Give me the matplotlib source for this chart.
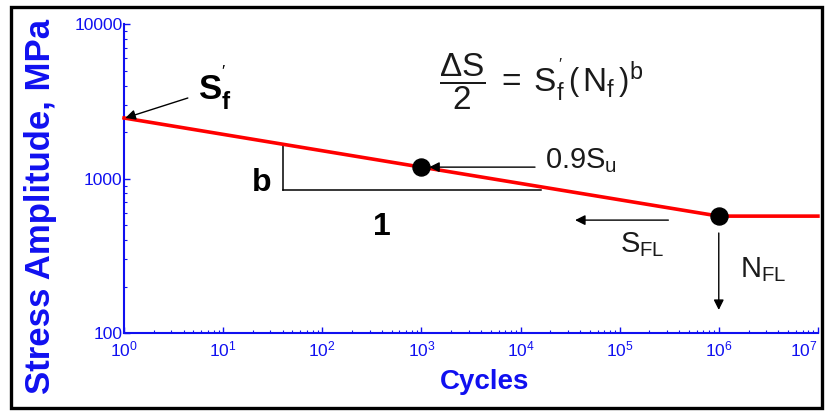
"""S-N curve sketch: Basquin line with fatigue limit."""
import matplotlib

matplotlib.use("Agg")
import matplotlib.pyplot as plt
from matplotlib.patches import Rectangle

OUT = "out.png"
BLUE = "#1010F0"
INK = "#1a1a1a"

# curve: Basquin segment up to the fatigue limit, then flat
cycles = [1.0, 1e3, 1e6, 1e7]
stress = [2465.0, 1185.0, 571.0, 571.0]

# marked points (0.9 Su at 10^3, fatigue limit at 10^6)
mark_cycles = [1e3, 1e6]
mark_stress = [1185.0, 571.0]

x_ticks = [1, 10, 100, 1e3, 1e4, 1e5, 1e6, 1e7]
x_tick_labels = [r"$10^{%d}$" % k for k in range(8)]
y_ticks = [100, 1000, 10000]
y_tick_labels = ["100", "1000", "10000"]


def main():
    plt.rcParams["font.family"] = ["Liberation Sans", "DejaVu Sans"]
    plt.rcParams["mathtext.fontset"] = "custom"
    plt.rcParams["mathtext.rm"] = "Liberation Sans"
    plt.rcParams["mathtext.it"] = "Liberation Sans"
    plt.rcParams["mathtext.bf"] = "Liberation Sans:bold"

    fig = plt.figure(figsize=(8.28, 4.12), dpi=100)
    ax = fig.add_axes([0.1498, 0.1917, 0.838, 0.750])

    ax.plot(cycles, stress, color="red", linewidth=2.6, zorder=3, clip_on=False)
    ax.scatter(mark_cycles, mark_stress, s=150, color="black", zorder=4)

    ax.set_xscale("log")
    ax.set_yscale("log")
    ax.set_xlim(1, 1e7)
    ax.set_ylim(100, 10000)
    ax.set_xticks(x_ticks)
    ax.set_xticklabels(x_tick_labels)
    ax.set_yticks(y_ticks)
    ax.set_yticklabels(y_tick_labels)
    # keep the last decade label inside the border
    ax.get_xticklabels()[-1].set_horizontalalignment("right")

    for side in ("top", "right"):
        ax.spines[side].set_visible(False)
    for side in ("left", "bottom"):
        ax.spines[side].set_color(BLUE)
        ax.spines[side].set_linewidth(1.5)
    ax.tick_params(which="both", direction="in", colors=BLUE, labelcolor=BLUE,
                   labelsize=12.5)
    ax.tick_params(which="major", length=4, width=1.0)
    ax.tick_params(which="minor", length=2.5, width=0.8)
    ax.tick_params(axis="x", pad=5)
    ax.tick_params(axis="y", pad=1)

    ax.set_xlabel("Cycles", color=BLUE, fontsize=20, fontweight="bold")
    ax.set_ylabel("Stress Amplitude, MPa", color=BLUE, fontsize=25,
                  fontweight="bold")
    ax.xaxis.set_label_coords(0.52, -0.118)
    ax.yaxis.set_label_coords(-0.097, 0.41)

    arrow = dict(arrowstyle="-|>", color="black", lw=1.0, mutation_scale=15,
                 shrinkA=0, shrinkB=0)

    # S'f at N = 1
    ax.annotate("", xy=(cycles[0] * 1.03, stress[0]), xytext=(4.4, 3320),
                arrowprops=arrow, annotation_clip=False)
    ax.text(5.6, 3850, r"$\mathbf{S}^{'}_{\mathbf{f}}$", fontsize=25,
            ha="left", va="center")

    # Basquin equation
    ax.text(1500, 4250,
            r"$\dfrac{\Delta S}{2}\;=\;S^{'}_{f}\,\left(\,N_{f}\,\right)^{b}$",
            fontsize=24, color=INK, ha="left", va="center")

    # slope triangle
    ax.plot([40, 40], [1670, 844], color="black", lw=1.1)
    ax.plot([40, 1.6e4], [844, 844], color="black", lw=1.1)
    ax.text(24.5, 935, "b", fontsize=23, fontweight="bold", ha="center",
            va="center")
    ax.text(400, 485, "1", fontsize=23, fontweight="bold", ha="center",
            va="center")

    # 0.9 Su
    ax.annotate("", xy=(1.2e3, 1185), xytext=(1.4e4, 1185), arrowprops=arrow)
    ax.text(1.75e4, 1300, r"$0.9S_{u}$", fontsize=21, color=INK,
            ha="left", va="center")

    # fatigue strength
    ax.annotate("", xy=(3.55e4, 538), xytext=(3.1e5, 538), arrowprops=arrow)
    ax.text(1.7e5, 372, r"$S_{FL}$", fontsize=21, color=INK,
            ha="center", va="center")

    # fatigue life
    ax.annotate("", xy=(1e6, 141), xytext=(1e6, 444), arrowprops=arrow)
    ax.text(1.64e6, 256, r"$N_{FL}$", fontsize=21, color=INK,
            ha="left", va="center")

    fig.patches.append(Rectangle((0.0133, 0.0097), 0.9795, 0.9733,
                                 transform=fig.transFigure, fill=False,
                                 edgecolor="black", linewidth=2.4))

    fig.savefig(OUT, dpi=100)


if __name__ == "__main__":
    main()
